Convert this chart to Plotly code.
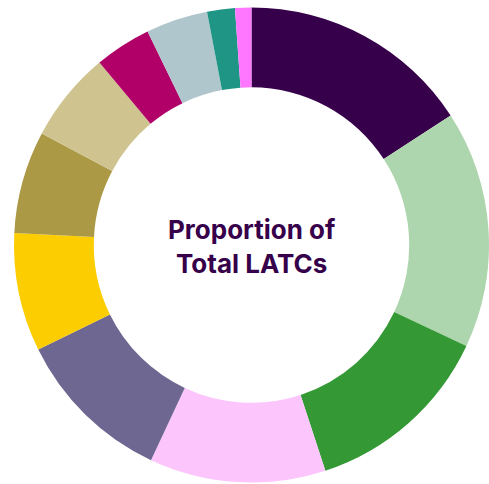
import plotly.graph_objects as go

# Share of total LATCs by segment, clockwise from 12 o'clock
segments = ["A", "B", "C", "D", "E", "F", "G", "H", "I", "J", "K", "L"]
shares = [15.83, 16.17, 12.97, 11.99, 10.79, 8.07, 6.96, 6.17, 3.85, 4.21, 1.89, 1.11]
colors = ["#36004a", "#aed6ae", "#349934", "#fcc6fc", "#6e6791", "#fccd00",
          "#ab9946", "#cfc48f", "#b10068", "#afc6cd", "#1f9685", "#ff77ff"]

W, H = 489, 484

fig = go.Figure(go.Pie(
    labels=segments,
    values=shares,
    sort=False,
    direction="clockwise",
    rotation=0,
    hole=0.664,
    marker=dict(colors=colors, line=dict(width=0)),
    textinfo="none",
    hoverinfo="label+percent",
    domain=dict(x=[14 / W, 1.0], y=[1 - 483 / H, 1 - 7 / H]),
    showlegend=False,
))

fig.add_annotation(
    text="<b>Proportion of<br>Total LATCs</b>",
    x=252 / W, y=1 - 246 / H, xref="paper", yref="paper",
    showarrow=False,
    font=dict(family="Inter", size=26, color="#36004a"),
    align="center",
)

fig.update_layout(
    width=W, height=H,
    margin=dict(l=0, r=0, t=0, b=0),
    paper_bgcolor="white",
    plot_bgcolor="white",
)

fig.write_html("out.html")
